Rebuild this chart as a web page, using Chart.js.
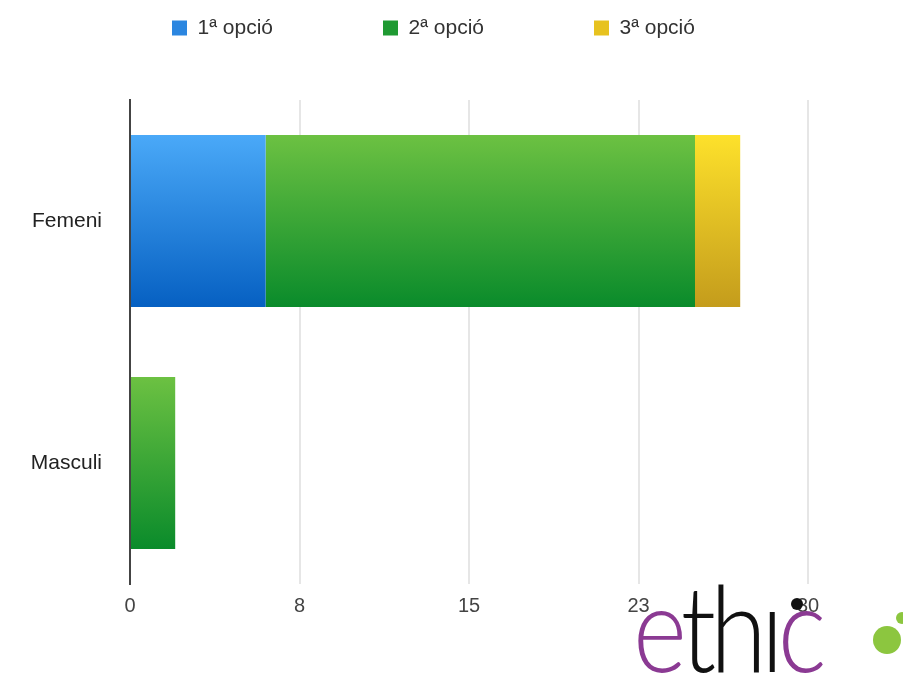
<!DOCTYPE html>
<html>
<head>
<meta charset="utf-8">
<script src="https://cdn.jsdelivr.net/npm/chart.js@4.4.1/dist/chart.umd.min.js"></script>
<style>
  html, body { margin: 0; padding: 0; background: #fff; }
  #wrap { position: relative; width: 903px; height: 681px; overflow: hidden; }
  #c { position: absolute; left: 0; top: 0; }
  #logo { position: absolute; left: 633px; top: 566px; font-family: Lato, "Open Sans", sans-serif; font-weight: 300; font-size: 120px; line-height: 1; letter-spacing: -7px; white-space: nowrap; color: #111; transform: scaleX(0.86); transform-origin: 0 0; }
  #logo .p { color: #8b3a93; }
  #dot1 { position: absolute; left: 791px; top: 598px; width: 12px; height: 12px; border-radius: 50%; background: #111; }
  #dot2 { position: absolute; left: 873px; top: 626px; width: 28px; height: 28px; border-radius: 50%; background: #8cc63f; }
  #dot3 { position: absolute; left: 896px; top: 612px; width: 12px; height: 12px; border-radius: 50%; background: #8cc63f; }
</style>
</head>
<body>
<div id="wrap">
  <canvas id="c" width="903" height="681"></canvas>
  <div id="logo"><span class="p">e</span>thı<span class="p">c</span></div>
  <div id="dot1"></div>
  <div id="dot2"></div>
  <div id="dot3"></div>
</div>
<script>
const categories = ['Femeni', 'Masculi'];
const seriesNames = ['1ª opció', '2ª opció', '3ª opció'];
const opcio1 = [6, 0];
const opcio2 = [19, 2];
const opcio3 = [2, 0];
const tickLabels = ['0', '8', '15', '23', '30'];

const BAR_FRAC = 0.71;
const LEG_PAD = 110;

function vGrad(topColor, bottomColor) {
  return function (c) {
    const chart = c.chart;
    const area = chart.chartArea;
    const ys = chart.scales.y;
    if (!area || !ys) return bottomColor;
    const center = ys.getPixelForValue(c.dataIndex);
    const half = (ys.height / categories.length) * BAR_FRAC / 2;
    const g = chart.ctx.createLinearGradient(0, center - half, 0, center + half);
    g.addColorStop(0, topColor);
    g.addColorStop(1, bottomColor);
    return g;
  };
}

const legendTweak = {
  id: 'legendTweak',
  beforeInit(chart) {
    const lg = chart.legend;
    if (!lg) return;
    const origFit = lg.fit;
    lg.fit = function () {
      origFit.call(this);
      this.height = 100;
    };
    const origDraw = lg._draw;
    lg._draw = function () {
      const ctx = this.ctx;
      const start = (this.left + LEG_PAD + this.right - this.lineWidths[0]) / 2;
      const fs = this.options.labels.font.size;
      const itemH = Math.max(fs, this.options.labels.boxHeight || fs);
      ctx.save();
      ctx.translate(172 - start, 28 - (this.top + LEG_PAD + itemH / 2));
      origDraw.call(this);
      ctx.restore();
    };
  }
};

new Chart(document.getElementById('c'), {
  type: 'bar',
  data: {
    labels: categories,
    datasets: [
      { label: seriesNames[0], data: opcio1, backgroundColor: vGrad('#4aa9f8', '#0660c2') },
      { label: seriesNames[1], data: opcio2, backgroundColor: vGrad('#6cc142', '#0a8b2b') },
      { label: seriesNames[2], data: opcio3, backgroundColor: vGrad('#fde12b', '#c49c1c') }
    ]
  },
  options: {
    indexAxis: 'y',
    responsive: false,
    animation: false,
    maintainAspectRatio: false,
    layout: { padding: { left: 0, right: 95, top: 0, bottom: 0 } },
    datasets: { bar: { categoryPercentage: 1, barPercentage: BAR_FRAC, borderWidth: 0 } },
    plugins: {
      tooltip: { enabled: false },
      legend: {
        position: 'top',
        labels: {
          boxWidth: 15,
          boxHeight: 15,
          padding: LEG_PAD,
          color: '#333',
          font: { family: '"Liberation Sans", Arial, sans-serif', size: 21 },
          generateLabels(chart) {
            return chart.data.datasets.map((d, i) => ({
              text: d.label,
              fillStyle: ['#2b86e0', '#1f9a32', '#e7c21f'][i],
              strokeStyle: 'rgba(0,0,0,0)',
              lineWidth: 0,
              hidden: false,
              datasetIndex: i,
              fontColor: '#333'
            }));
          }
        }
      }
    },
    scales: {
      x: {
        stacked: true,
        min: 0,
        max: 30,
        ticks: {
          stepSize: 7.5,
          padding: 10,
          color: '#444',
          font: { family: '"Liberation Sans", Arial, sans-serif', size: 20 },
          callback: (v, i) => tickLabels[i]
        },
        grid: { color: '#e6e6e6', lineWidth: 2, drawTicks: false },
        border: { display: false },
        afterFit(s) { s.height = 97; }
      },
      y: {
        stacked: true,
        ticks: {
          padding: 28,
          color: '#222',
          font: { family: '"Liberation Sans", Arial, sans-serif', size: 21 }
        },
        grid: { display: false, drawTicks: false },
        border: { display: true, color: '#444', width: 2 },
        afterFit(s) { s.width = 130; }
      }
    }
  },
  plugins: [legendTweak]
});
</script>
</body>
</html>
